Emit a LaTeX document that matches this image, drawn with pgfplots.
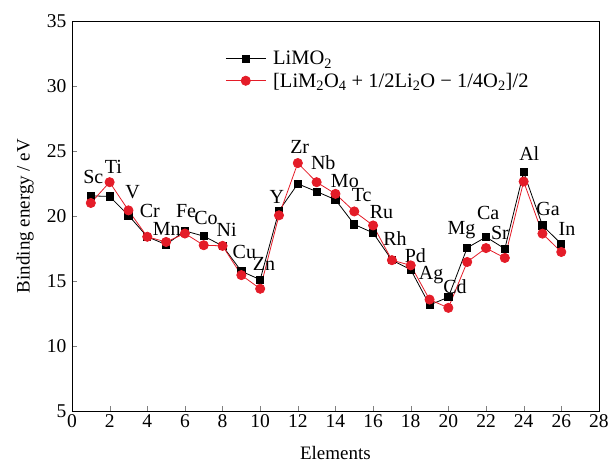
\documentclass[border=0pt]{standalone}
\usepackage{fontspec}
\setmainfont{Liberation Serif}
\usepackage{pgfplots}
\pgfplotsset{compat=1.18}
\definecolor{redc}{RGB}{228,28,40}
\begin{document}
\begin{tikzpicture}
\begin{axis}[
  scale only axis, width=527pt, height=390pt,
  xmin=0, xmax=28, ymin=5, ymax=35,
  xtick={0,2,...,28}, ytick={5,10,...,35},
  tick align=inside, xtick pos=bottom, ytick pos=left,
  major tick length=5pt,
  clip=false,
  /pgf/number format/assume math mode=true,
  tick label style={font=\fontsize{19.5}{22}\selectfont},
  yticklabel style={xshift=-2pt},
  label style={font=\fontsize{19}{22}\selectfont},
  xlabel={Elements}, ylabel={Binding energy / eV},
  xlabel style={at={(axis description cs:0.5,-0.1077)}, anchor=center},
  ylabel style={at={(axis description cs:-0.0892,0.5)}, anchor=center},
  axis line style={black, line width=0.8pt},
  legend style={draw=none, fill=none, at={(0.285,0.933)}, anchor=north west,
    font=\fontsize{20.5}{24}\selectfont, row sep=2.5pt},
  legend cell align=left,
  legend image code/.code={\draw[mark repeat=2,mark phase=2] plot coordinates {(0pt,0pt)(20pt,0pt)(40pt,0pt)}; \path (45pt,0pt);},
]
\addplot[black, line width=0.8pt, mark=square*, mark size=3.6pt] coordinates {
(1,21.55) (2,21.5) (3,20.05) (4,18.4) (5,17.8) (6,18.85) (7,18.45) (8,17.7) (9,15.75) (10,15.1)
(11,20.4) (12,22.47) (13,21.88) (14,21.25) (15,19.35) (16,18.7) (17,16.6) (18,15.87) (19,13.15) (20,13.75)
(21,17.55) (22,18.38) (23,17.48) (24,23.37) (25,19.27) (26,17.85)};
\addlegendentry{LiMO\textsubscript{2}}
\addplot[redc, line width=0.8pt, mark=*, mark size=4.6pt] coordinates {
(1,21.0) (2,22.6) (3,20.43) (4,18.4) (5,18.0) (6,18.65) (7,17.75) (8,17.7) (9,15.45) (10,14.4)
(11,20.05) (12,24.07) (13,22.6) (14,21.7) (15,20.35) (16,19.27) (17,16.6) (18,16.2) (19,13.57) (20,12.93)
(21,16.46) (22,17.53) (23,16.77) (24,22.65) (25,18.64) (26,17.23)};
\addlegendentry{[LiM\textsubscript{2}O\textsubscript{4} + 1/2Li\textsubscript{2}O − 1/4O\textsubscript{2}]/2}
\begin{scope}[every node/.style={font=\fontsize{20}{22}\selectfont, inner sep=0pt}]
\node at (axis cs:1.13,22.98) {Sc};
\node at (axis cs:2.2,23.8) {Ti};
\node at (axis cs:3.22,21.83) {V};
\node at (axis cs:4.14,20.4) {Cr};
\node at (axis cs:5.03,19.0) {Mn};
\node at (axis cs:6.06,20.4) {Fe};
\node at (axis cs:7.12,19.87) {Co};
\node at (axis cs:8.22,18.9) {Ni};
\node at (axis cs:9.16,17.2) {Cu};
\node at (axis cs:10.2,16.3) {Zn};
\node at (axis cs:10.88,21.45) {Y};
\node at (axis cs:12.1,25.3) {Zr};
\node at (axis cs:13.35,24.1) {Nb};
\node at (axis cs:14.5,22.7) {Mo};
\node at (axis cs:15.39,21.58) {Tc};
\node at (axis cs:16.45,20.3) {Ru};
\node at (axis cs:17.16,18.25) {Rh};
\node at (axis cs:18.25,16.95) {Pd};
\node at (axis cs:19.08,15.45) {Ag};
\node at (axis cs:20.35,14.54) {Cd};
\node at (axis cs:20.7,18.9) {Mg};
\node at (axis cs:22.12,20.2) {Ca};
\node at (axis cs:22.74,18.7) {Sr};
\node at (axis cs:24.3,24.8) {Al};
\node at (axis cs:25.3,20.5) {Ga};
\node at (axis cs:26.3,19.0) {In};
\end{scope}
\coordinate (sw) at (rel axis cs:0,0);
\coordinate (ne) at (rel axis cs:1,1);
\end{axis}
\path (sw) ++(-72pt,-52pt);
\path (ne) ++(13pt,21pt);
\end{tikzpicture}
\end{document}
